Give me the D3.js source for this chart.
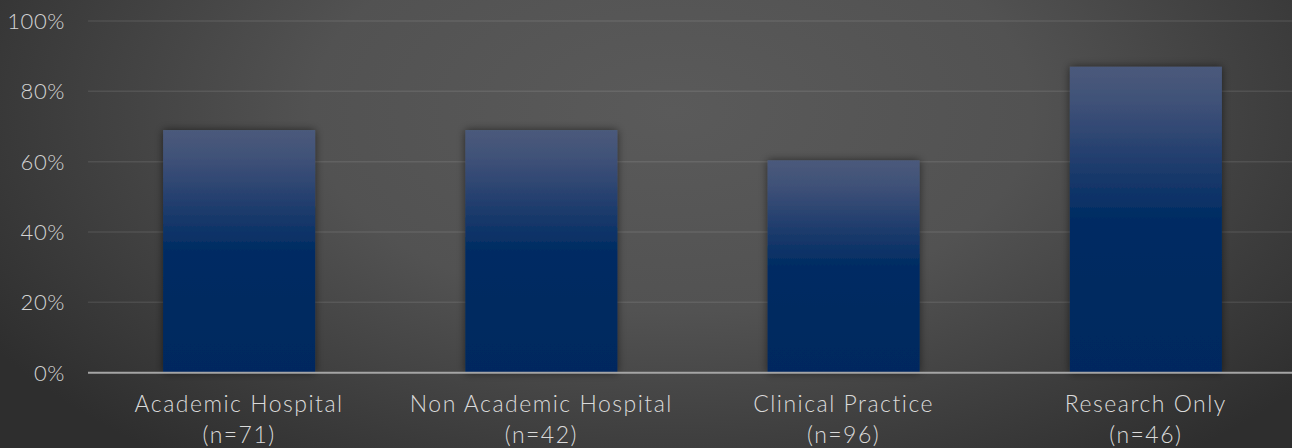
<!DOCTYPE html>
<html>
<head>
<meta charset="utf-8">
<script src="https://cdn.jsdelivr.net/npm/d3@7"></script>
<style>
  html, body { margin: 0; padding: 0; background: #3a3a3a; }
  svg { display: block; }
  text { font-family: "Lato", "DejaVu Sans", sans-serif; font-weight: 300; }
</style>
</head>
<body>
<svg id="chart" width="1292" height="448"></svg>
<script>
// Share of respondents per work setting
const categories = ["Academic Hospital", "Non Academic Hospital", "Clinical Practice", "Research Only"];
const sampleSizes = ["(n=71)", "(n=42)", "(n=96)", "(n=46)"];
const shares = [0.690, 0.690, 0.604, 0.870];
const yTicks = [0, 0.2, 0.4, 0.6, 0.8, 1.0];

const W = 1292, H = 448;
const svg = d3.select("#chart");
const defs = svg.append("defs");

// slide background: soft radial vignette
const bg = defs.append("radialGradient")
  .attr("id", "bg").attr("cx", "52%").attr("cy", "25%").attr("r", "62%")
  .attr("gradientTransform", "translate(0.52,0.25) scale(1,1.6) translate(-0.52,-0.25)");
bg.append("stop").attr("offset", "0%").attr("stop-color", "#5a5a5a");
bg.append("stop").attr("offset", "45%").attr("stop-color", "#525252");
bg.append("stop").attr("offset", "100%").attr("stop-color", "#2e2e2e");
svg.append("rect").attr("width", W).attr("height", H).attr("fill", "url(#bg)");

// bar fill: light steel blue at top fading to navy half way down
const barGrad = defs.append("linearGradient")
  .attr("id", "barGrad").attr("x1", 0).attr("y1", 0).attr("x2", 0).attr("y2", 1);
barGrad.append("stop").attr("offset", "0%").attr("stop-color", "#4b5a7b");
barGrad.append("stop").attr("offset", "12%").attr("stop-color", "#3f5178");
barGrad.append("stop").attr("offset", "30%").attr("stop-color", "#223e6e");
barGrad.append("stop").attr("offset", "50%").attr("stop-color", "#002c63");
barGrad.append("stop").attr("offset", "100%").attr("stop-color", "#00285e");

const shadow = defs.append("filter").attr("id", "shadow")
  .attr("x", "-20%").attr("y", "-20%").attr("width", "140%").attr("height", "140%");
shadow.append("feDropShadow").attr("dx", 0).attr("dy", 0)
  .attr("stdDeviation", 4).attr("flood-color", "#000").attr("flood-opacity", 0.55);

const x = d3.scaleBand().domain(categories).range([88, 1297])
  .paddingInner(0.497).paddingOuter(0.2485);
const y = d3.scaleLinear().domain([0, 1]).range([372.7, 21]);

// horizontal gridlines
svg.append("g").selectAll("line").data(yTicks.filter(d => d > 0)).join("line")
  .attr("x1", 88).attr("x2", W)
  .attr("y1", d => y(d)).attr("y2", d => y(d))
  .attr("stroke", "rgba(255,255,255,0.09)").attr("stroke-width", 1.5);

// y tick labels
svg.append("g").selectAll("text").data(yTicks).join("text")
  .attr("x", 65).attr("y", d => y(d))
  .attr("dy", "0.36em")
  .attr("text-anchor", "end")
  .attr("fill", "#d4d4d4")
  .attr("font-size", 22)
  .attr("letter-spacing", 0.6)
  .text(d3.format(".0%"));

// bars
svg.append("g").selectAll("rect").data(categories).join("rect")
  .attr("x", d => x(d))
  .attr("width", x.bandwidth())
  .attr("y", (d, i) => y(shares[i]))
  .attr("height", (d, i) => y(0) - y(shares[i]))
  .attr("fill", "url(#barGrad)")
  .attr("filter", "url(#shadow)");

// category axis line
svg.append("line")
  .attr("x1", 88).attr("x2", W)
  .attr("y1", y(0)).attr("y2", y(0))
  .attr("stroke", "#a5a5a5").attr("stroke-width", 2);

// category labels, two lines each
const lab = svg.append("g").selectAll("text").data(categories).join("text")
  .attr("text-anchor", "middle")
  .attr("fill", "#dadada")
  .attr("font-size", 23)
  .attr("letter-spacing", 1.5);
lab.append("tspan")
  .attr("x", d => x(d) + x.bandwidth() / 2).attr("y", 412)
  .text(d => d);
lab.append("tspan")
  .attr("x", d => x(d) + x.bandwidth() / 2).attr("y", 443)
  .text((d, i) => sampleSizes[i]);
</script>
</body>
</html>
